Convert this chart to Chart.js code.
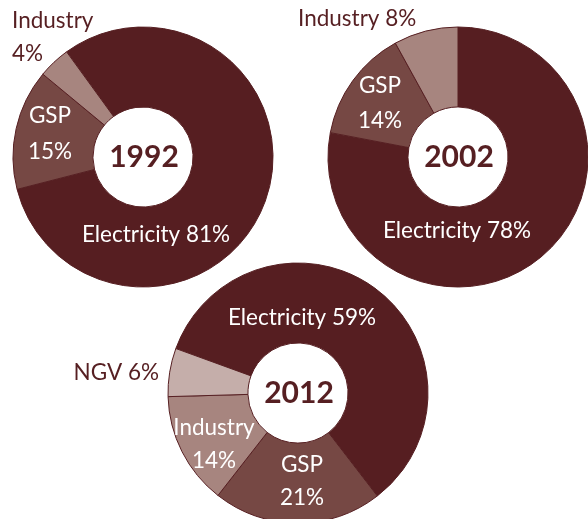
<!DOCTYPE html>
<html>
<head>
<meta charset="utf-8">
<script src="https://cdn.jsdelivr.net/npm/chart.js@4"></script>
<style>
  html, body { margin: 0; padding: 0; background: #ffffff; }
  #wrap { position: relative; width: 588px; height: 519px; overflow: hidden; }
  #wrap canvas { position: absolute; left: 0; top: 0; }
</style>
</head>
<body>
<div id="wrap">
  <canvas id="c1992" width="588" height="519"></canvas>
  <canvas id="c2002" width="588" height="519"></canvas>
  <canvas id="c2012" width="588" height="519"></canvas>
</div>
<script>
// ---- Data ----
const years = ['1992', '2002', '2012'];
const categories1992 = ['Electricity', 'GSP', 'Industry'];
const values1992 = [81, 15, 4];
const categories2002 = ['Electricity', 'GSP', 'Industry'];
const values2002 = [78, 14, 8];
const categories2012 = ['Electricity', 'GSP', 'Industry', 'NGV'];
const values2012 = [59, 21, 14, 6];

// ---- Styles ----
const sliceColors = {
  Electricity: '#561e21',
  GSP: '#764844',
  Industry: '#a7857f',
  NGV: '#c5aeaa'
};
const darkText = '#561f22';
const FONT = 'Lato, "Open Sans", "Liberation Sans", sans-serif';

// label layout per chart: offsets from the doughnut centre (text layout only)
const layouts = {
  '1992': {
    center: [143, 157], rotation: -36,
    labels: [
      { split: false, dx: 13, dy: 85, align: 'center', color: '#ffffff' },
      { split: true, dx: -93, dy: -34, gap: 36, align: 'center', color: '#ffffff' },
      { split: true, dx: -131, dy: -129, gap: 33, align: 'left', color: darkText }
    ]
  },
  '2002': {
    center: [458, 157], rotation: 0,
    labels: [
      { split: false, dx: -1, dy: 81, align: 'center', color: '#ffffff' },
      { split: true, dx: -78, dy: -64, gap: 35, align: 'center', color: '#ffffff' },
      { split: false, dx: -160, dy: -131, align: 'left', color: darkText }
    ]
  },
  '2012': {
    center: [298, 393], rotation: -70,
    labels: [
      { split: false, dx: 4, dy: -68, align: 'center', color: '#ffffff' },
      { split: true, dx: 4, dy: 79, gap: 33, align: 'center', color: '#ffffff' },
      { split: true, dx: -84, dy: 42, gap: 33, align: 'center', color: '#ffffff' },
      { split: false, dx: -139, dy: -13, align: 'right', color: darkText }
    ]
  }
};

const W = 588, H = 519, R = 130;

const labelPlugin = {
  id: 'sliceLabels',
  afterDraw(chart) {
    const opts = chart.options.plugins.sliceLabels;
    const meta = chart.getDatasetMeta(0);
    if (!meta.data.length) return;
    const cx = meta.data[0].x, cy = meta.data[0].y;
    const ctx = chart.ctx;
    ctx.save();
    ctx.textBaseline = 'alphabetic';
    // year in the hole
    ctx.font = '700 30px ' + FONT;
    ctx.fillStyle = darkText;
    ctx.textAlign = 'center';
    ctx.fillText(opts.year, cx + 1, cy + 10);
    // slice labels
    ctx.font = '400 22.5px ' + FONT;
    const labels = chart.data.labels;
    const values = chart.data.datasets[0].data;
    opts.layout.forEach((L, i) => {
      const lines = L.split ? [labels[i], values[i] + '%'] : [labels[i] + ' ' + values[i] + '%'];
      ctx.fillStyle = L.color;
      ctx.textAlign = L.align;
      lines.forEach((t, k) => {
        ctx.fillText(t, cx + L.dx, cy + L.dy + k * (L.gap || 0));
      });
    });
    ctx.restore();
  }
};

function makeChart(id, year, cats, vals) {
  const lay = layouts[year];
  const [cx, cy] = lay.center;
  const padding = {
    left: Math.max(0, 2 * cx - W),
    right: Math.max(0, W - 2 * cx),
    top: Math.max(0, 2 * cy - H),
    bottom: Math.max(0, H - 2 * cy)
  };
  return new Chart(document.getElementById(id), {
    type: 'doughnut',
    data: {
      labels: cats,
      datasets: [{
        data: vals,
        backgroundColor: cats.map(c => sliceColors[c]),
        borderColor: '#561f22',
        borderWidth: 1,
        clip: false
      }]
    },
    options: {
      responsive: false,
      animation: false,
      devicePixelRatio: 1,
      events: [],
      radius: R,
      cutout: '38.5%',
      rotation: lay.rotation,
      layout: { padding },
      plugins: {
        legend: { display: false },
        tooltip: { enabled: false },
        sliceLabels: { year, layout: lay.labels }
      }
    },
    plugins: [labelPlugin]
  });
}

makeChart('c1992', years[0], categories1992, values1992);
makeChart('c2002', years[1], categories2002, values2002);
makeChart('c2012', years[2], categories2012, values2012);
</script>
</body>
</html>
